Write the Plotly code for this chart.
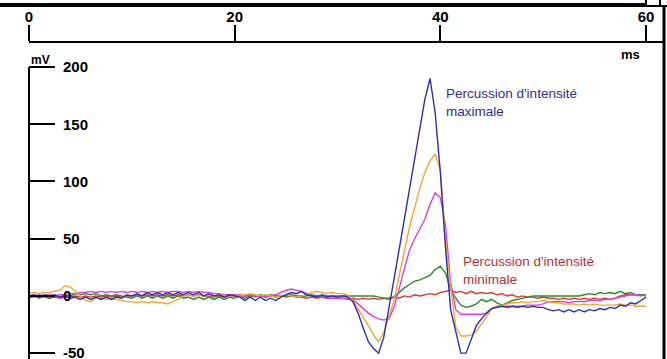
import plotly.graph_objects as go

# time samples (ms), 0.5 ms step
t_ms = [i * 0.5 for i in range(121)]

blue = [0, 1, -1, 1, 0, 1, -1, 0, -2, -1,
        -3, -1, -3, -1, -3, -1, -3, -1, -2, 1,
        0, 2, 0, 3, 1, 3, 1, 3, 1, 3,
        1, 3, 1, 3, 0, 2, 0, 1, -1, 1,
        0, -1, -4, -1, -4, -1, -4, -2, -4, -1,
        1, 3, 2, 4, 1, 0, -1, 1, -1, 0,
        -1, 0, -1, -5, -15, -28, -40, -46, -50, -36,
        -12, 15, 41, 67, 93, 120, 146, 172, 190, 160,
        108, 42, -12, -31, -50, -50, -37, -26, -20, -15,
        -11, -10, -9, -10, -9, -10, -9, -10, -9, -10,
        -10, -12, -13, -12, -14, -12, -14, -12, -14, -12,
        -13, -11, -12, -10, -11, -8, -9, -6, -7, -4,
        -1]

orange = [2, 3, 2, 3, 3, 4, 5, 9, 8, 4,
          0, -4, -5, -2, -2, -3, -2, -3, -4, -5,
          -5, -6, -5, -6, -5, -6, -6, -7, -5, -3,
          0, 1, 0, 1, 0, 1, 0, 1, 0, 0,
          -1, 0, 1, 2, 1, 0, 1, 0, -1, 0,
          1, 0, -1, 0, 1, 3, 4, 3, 2, 3,
          2, 2, 1, -4, -11, -18, -26, -34, -40, -32,
          -17, -4, 18, 40, 60, 77, 94, 108, 118, 124,
          110, 50, 8, -27, -35, -35, -34, -31, -25, -18,
          -11, -9, -8, -7, -6, -6, -5, -6, -5, -5,
          -4, -5, -6, -6, -7, -7, -7, -8, -7, -8,
          -7, -8, -8, -8, -8, -7, -8, -8, -9, -9,
          -9]

magenta = [0, 0, 1, 0, 1, 0, 1, 1, 2, 2,
           3, 3, 4, 3, 4, 3, 4, 3, 4, 3,
           4, 3, 4, 3, 4, 3, 4, 3, 4, 4,
           3, 4, 3, 4, 3, 3, 2, 2, 1, 1,
           1, 0, 0, 1, 0, 0, -1, 0, 1, 3,
           5, 6, 5, 4, 2, 0, -1, -1, -2, -2,
           -2, -2, -2, -3, -7, -11, -15, -18, -20, -21,
           -20, -10, 6, 22, 40, 50, 58, 67, 80, 90,
           86, 62, 12, -12, -16, -16, -16, -16, -16, -15,
           -11, -9, -9, -9, -9, -9, -9, -8, -8, -8,
           -7, -5, -5, -5, -5, -6, -5, -5, -5, -4,
           -4, -4, -3, -3, -2, -1, 0, 1, 1, 0,
           1]

green = [-2, 0, -2, 0, -2, 0, -1, 1, 0, 2,
         1, 2, 1, 2, 0, 1, 0, 1, 0, -1,
         -2, 0, -2, 0, -2, 0, -2, 0, -2, 0,
         -2, -1, -3, -1, -3, -1, -3, -1, -3, -1,
         -2, 0, -2, 0, -1, 1, 0, 1, 0, 0,
         0, 1, 0, 0, 0, 1, 0, 0, 0, 0,
         0, 0, 0, 0, 0, 0, 0, 0, -1, -2,
         -3, -1, 3, 7, 10, 13, 14, 16, 18, 23,
         26, 20, 6, -2, -8, -10, -9, -7, -3, -5,
         -3, -6, -8, -6, -4, -3, -2, -1, 0, 0,
         0, 0, 0, 0, 0, 0, 0, 0, 1, 2,
         1, 3, 2, 3, 2, 4, 2, 3, 1, 1,
         1]

red = [0, -1, 0, -1, -2, -1, -2, -1, -1, 0,
       -1, 0, -1, 0, -1, 0, -1, 0, -1, 0,
       0, 1, 0, 1, 0, 1, 0, 1, 0, 1,
       0, 1, 0, 1, 0, 0, -1, 0, -1, 0,
       0, 1, 0, 1, 0, 0, -1, 0, -1, 0,
       -1, 0, -1, -1, -2, -1, -2, -1, -2, -2,
       -2, -2, -3, -2, -3, -2, -3, -2, -3, -2,
       -2, -1, -2, 0, -1, 1, 0, 1, 2, 1,
       3, 4, 5, 3, 4, 2, 4, 2, 3, 2,
       3, 1, 2, 0, 1, -1, 0, -1, -1, -2,
       -1, -2, -2, -3, -2, -3, -2, -3, -2, -3,
       -2, -3, -2, -3, -2, 0, 1, 1, 1, 1,
       0]

x_ticks = [0, 20, 40, 60]
y_ticks = [-50, 0, 50, 100, 150, 200]
y_ticktext = ["-50", "0", "50", "100", "150", "200"]

series = [
    ("Minimale", red, "#d33a2c"),
    ("Faible", green, "#2b8a2b"),
    ("Moyenne", magenta, "#dd3ddd"),
    ("Forte", orange, "#f2a634"),
    ("Maximale", blue, "#2f2fb0"),
]

fig = go.Figure()
for name, vals, col in series:
    fig.add_trace(go.Scatter(x=t_ms, y=vals, mode="lines", name=name,
                             line=dict(color=col, width=1.4), showlegend=False))

tick_font = dict(family="Liberation Sans, Arial", size=15,
                 color="black", weight="bold")

fig.update_layout(
    width=667, height=359,
    margin=dict(l=29, r=3, t=43, b=0, autoexpand=False),
    paper_bgcolor="white", plot_bgcolor="white",
    xaxis=dict(side="top", range=[0, 61.75], tickvals=x_ticks, automargin=False,
               ticklabeloverflow="allow", ticklabelstandoff=-3,
               showgrid=False, zeroline=False, showline=True,
               linecolor="black", linewidth=2, ticks="outside", ticklen=16,
               tickwidth=2, tickcolor="black", tickfont=tick_font),
    yaxis=dict(range=[-55.1, 221.0], tickvals=y_ticks, ticktext=y_ticktext,
               automargin=False, ticklabeloverflow="allow",
               showgrid=False, zeroline=False, showline=False,
               ticks="inside", ticklen=26, tickwidth=2, tickcolor="black",
               ticklabelposition="inside", ticklabelstandoff=8, tickfont=tick_font),
    shapes=[
        # left axis line, from the bottom up to 200 mV
        dict(type="line", xref="paper", yref="y", x0=0, x1=0, y0=-60, y1=200,
             line=dict(color="black", width=2)),
        # picture frame
        dict(type="rect", xref="paper", yref="paper", x0=-0.05, x1=0.970,
             y0=1.1139, y1=1.1266, fillcolor="black", line=dict(width=0)),
        dict(type="rect", xref="paper", yref="paper", x0=0.9717, x1=0.9937,
             y0=1.117, y1=1.14, fillcolor="white", line=dict(color="black", width=2)),
        dict(type="line", xref="paper", yref="paper", x0=1.0, x1=1.0,
             y0=-0.01, y1=1.117, line=dict(color="black", width=3)),
        dict(type="line", xref="paper", yref="paper", x0=0.9937, x1=1.01,
             y0=1.117, y1=1.117, line=dict(color="black", width=2)),
    ],
    annotations=[
        dict(text="mV", xref="paper", yref="paper", x=0, y=(359 - 60) / 316,
             xanchor="left", yanchor="middle", showarrow=False,
             font=dict(family="Liberation Sans, Arial",
                       size=12, color="black", weight="bold")),
        dict(text="ms", xref="paper", yref="paper", x=(642 - 29) / 635, y=(359 - 55) / 316,
             xanchor="right", yanchor="middle", showarrow=False,
             font=dict(family="Liberation Sans, Arial",
                       size=13, color="black", weight="bold")),
        dict(text="Percussion d'intensité<br>maximale", x=40.35, y=169.4,
             xanchor="left", yanchor="middle", align="left", showarrow=False,
             font=dict(family="Liberation Sans, Arial", size=13.5, color="#2e2e8e")),
        dict(text="Percussion d'intensité<br>minimale", x=42.0, y=22.4,
             xanchor="left", yanchor="middle", align="left", showarrow=False,
             font=dict(family="Liberation Sans, Arial", size=13.5, color="#b23232")),
    ],
)

fig.write_html("out.html", config={"displayModeBar": False},
               post_script="document.body.style.margin='0';")
